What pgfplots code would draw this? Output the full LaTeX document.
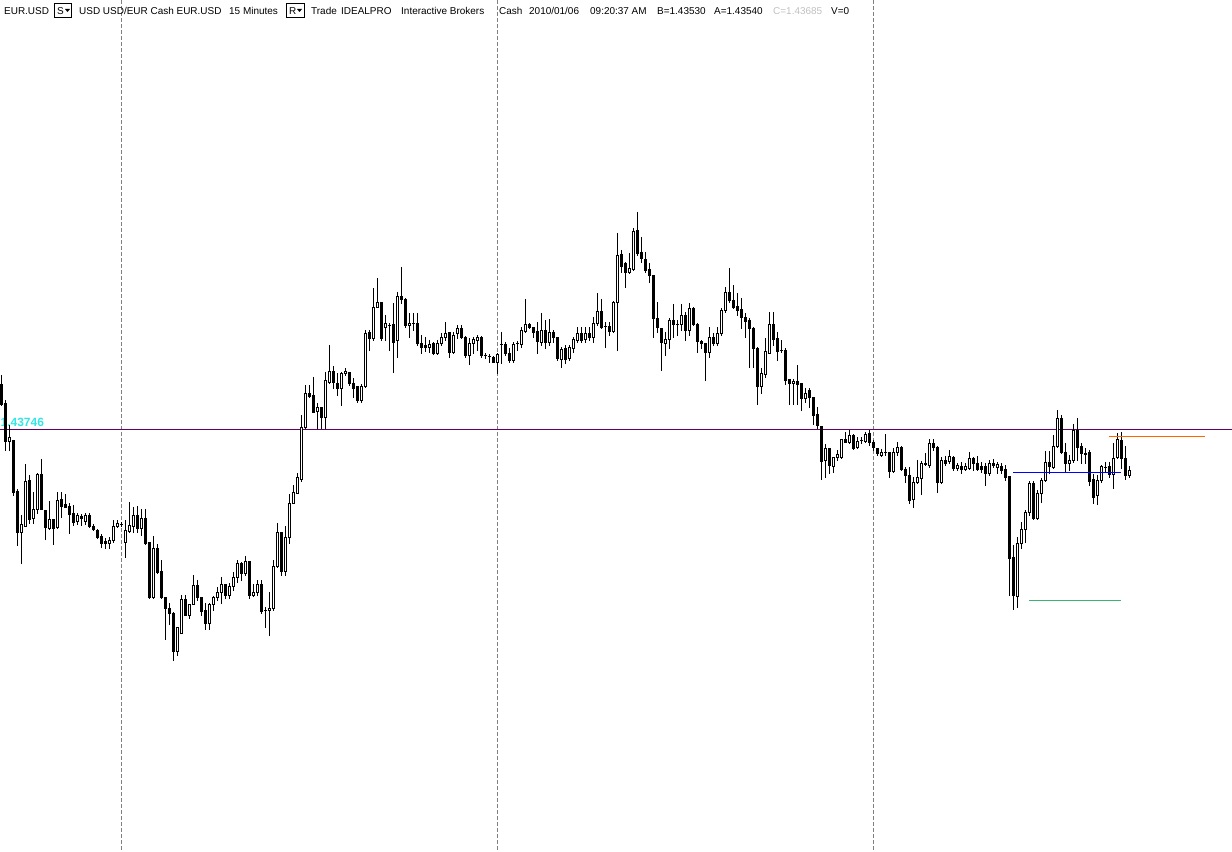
\documentclass[border=0pt]{standalone}
\usepackage{pgfplots}
\pgfplotsset{compat=1.18}
\usepackage{pgfplotstable}
\usepackage{fontspec}
\setmainfont{Liberation Sans}

\definecolor{sepgrey}{RGB}{128,128,128}
\definecolor{refline}{RGB}{102,0,102}
\definecolor{lblcyan}{RGB}{51,230,230}
\definecolor{ordblue}{RGB}{0,0,255}
\definecolor{ordorange}{RGB}{255,102,0}
\definecolor{ordgreen}{RGB}{60,179,113}
\definecolor{greytxt}{RGB}{192,192,192}

% EUR.USD 15 min bars, screen rows (top = 0); up=1 hollow (rising) bar
\pgfplotstableread{
k hi lo bt bb up
0 375 405 384 404 0
1 400 450 403 441 0
2 425 450 437 441 1
3 440 495 440 492 0
4 489 545 491 532 0
5 515 563 524 532 1
6 464 526 481 526 1
7 475 523 480 519 0
8 492 523 509 518 1
9 473 513 474 509 1
10 459 509 474 509 0
11 510 539 510 527 0
12 501 529 519 528 1
13 519 544 519 528 0
14 492 528 500 527 1
15 492 517 499 506 0
16 494 507 504 507 0
17 503 533 506 514 0
18 505 525 513 522 0
19 513 524 515 521 1
20 514 525 516 518 0
21 513 524 515 521 1
22 513 527 515 526 0
23 524 530 526 529 0
24 529 538 530 537 0
25 534 547 536 543 0
26 538 548 541 543 0
27 537 548 540 543 1
28 520 542 526 540 1
29 520 527 523 526 1
30 522 526 524 524 1
31 520 557 530 542 1
32 502 532 525 531 1
33 507 532 515 526 1
34 506 532 515 528 0
35 509 535 518 528 1
36 509 544 518 543 0
37 542 598 542 597 0
38 536 598 548 597 1
39 544 573 548 572 0
40 560 598 571 597 0
41 597 639 597 608 0
42 603 624 608 613 0
43 612 660 613 651 0
44 627 655 627 651 1
45 595 633 599 633 1
46 595 615 599 615 0
47 604 618 604 615 1
48 575 604 585 604 1
49 580 600 585 597 0
50 597 615 597 611 0
51 603 629 610 623 0
52 603 629 604 623 1
53 596 610 597 604 1
54 587 600 592 597 1
55 577 603 584 592 1
56 584 598 584 595 0
57 583 598 586 595 1
58 572 590 577 586 1
59 560 582 563 577 1
60 562 580 563 573 0
61 556 575 561 573 1
62 561 598 561 595 0
63 584 596 592 595 1
64 580 595 584 592 1
65 580 613 584 611 0
66 607 627 610 610 1
67 592 635 608 610 1
68 560 610 566 608 1
69 523 567 532 566 1
70 532 575 532 571 0
71 526 575 537 571 1
72 494 543 503 537 1
73 485 503 492 503 1
74 473 493 477 493 1
75 415 481 427 479 1
76 385 428 393 427 1
77 385 397 393 396 0
78 377 412 395 412 0
79 403 428 407 411 1
80 407 428 407 417 0
81 372 428 380 417 1
82 345 383 371 382 1
83 366 388 371 382 0
84 373 395 383 388 0
85 372 405 373 388 1
86 368 375 371 373 1
87 372 385 372 383 0
88 378 397 383 388 0
89 386 402 386 400 0
90 384 402 386 400 1
91 330 387 333 386 1
92 330 350 332 338 0
93 288 340 307 338 1
94 278 307 302 307 1
95 302 340 302 338 0
96 315 340 323 327 1
97 323 350 325 325 1
98 303 372 324 342 0
99 292 357 296 340 1
100 267 303 296 299 0
101 298 327 299 325 0
102 313 337 323 325 1
103 313 330 323 323 1
104 313 345 323 343 0
105 335 353 343 347 0
106 337 351 345 347 0
107 340 352 344 347 1
108 342 354 343 353 0
109 340 354 343 353 1
110 333 345 337 343 1
111 322 340 333 337 1
112 332 357 332 352 0
113 332 353 335 352 1
114 325 338 328 333 1
115 325 338 328 337 0
116 336 357 337 355 0
117 338 364 343 355 1
118 337 353 339 343 1
119 335 350 337 340 1
120 336 357 337 355 0
121 353 358 355 355 0
122 354 362 356 356 0
123 356 362 357 362 0
124 353 373 354 362 1
125 332 363 344 344 1
126 342 355 344 353 0
127 348 362 353 360 0
128 342 362 344 360 1
129 341 350 343 343 1
130 327 347 330 344 1
131 299 332 324 331 1
132 323 328 324 327 0
133 327 337 327 332 0
134 322 353 331 341 0
135 313 345 330 342 1
136 320 348 330 342 0
137 319 345 332 342 1
138 330 342 332 337 0
139 337 360 337 358 0
140 347 367 349 359 1
141 345 363 348 359 0
142 345 360 347 358 1
143 337 352 339 348 1
144 327 342 333 340 1
145 327 342 333 340 0
146 327 342 333 339 1
147 327 340 333 337 0
148 317 342 323 337 1
149 293 325 311 323 1
150 299 328 311 327 0
151 322 347 326 326 0
152 322 335 326 331 0
153 301 332 302 331 1
154 233 350 255 302 1
155 250 272 254 266 0
156 262 287 263 272 0
157 253 273 268 272 1
158 228 270 231 269 1
159 212 255 230 253 0
160 237 262 252 258 0
161 252 272 259 270 0
162 263 282 269 275 0
163 275 337 275 318 0
164 302 332 318 327 0
165 328 370 328 342 0
166 332 355 339 343 1
167 318 348 320 339 1
168 304 337 320 324 0
169 320 335 324 324 0
170 304 330 315 324 1
171 312 340 315 330 0
172 303 335 308 330 1
173 307 325 308 324 0
174 323 352 324 341 0
175 340 348 341 343 0
176 343 380 343 352 0
177 327 357 337 352 1
178 333 345 337 343 0
179 327 345 333 343 1
180 308 335 310 333 1
181 287 312 292 310 1
182 268 302 292 300 0
183 285 308 300 307 0
184 293 315 306 310 0
185 298 328 309 317 0
186 313 337 317 321 0
187 318 367 320 328 0
188 327 367 328 348 0
189 347 404 348 386 0
190 368 393 373 386 1
191 338 377 351 374 1
192 312 353 324 353 1
193 312 345 324 339 0
194 332 360 338 351 0
195 340 352 350 350 0
196 348 384 350 380 0
197 379 404 379 383 0
198 379 404 381 383 1
199 365 404 381 384 0
200 383 410 383 398 0
201 388 402 393 398 1
202 388 407 390 397 0
203 397 424 397 415 0
204 407 428 414 425 0
205 426 479 426 461 0
206 444 477 448 460 1
207 448 473 448 465 0
208 457 472 457 466 1
209 450 460 454 457 1
210 439 458 439 457 1
211 432 442 439 442 0
212 430 443 435 442 1
213 434 449 435 448 0
214 437 448 441 447 1
215 437 443 440 440 1
216 432 442 434 441 1
217 430 445 433 442 0
218 440 450 442 447 0
219 448 455 448 453 0
220 449 456 452 455 1
221 434 455 452 452 1
222 452 477 452 471 0
223 448 472 452 471 1
224 442 455 447 452 1
225 446 470 447 469 0
226 467 482 469 475 0
227 467 503 475 500 0
228 477 507 482 499 1
229 460 483 477 482 1
230 461 494 463 478 1
231 453 465 463 464 1
232 439 467 443 465 1
233 439 450 443 447 0
234 446 492 447 482 0
235 457 483 460 482 1
236 456 465 460 463 0
237 450 463 456 461 1
238 456 470 457 468 0
239 463 470 465 468 1
240 462 473 466 469 0
241 463 470 466 469 1
242 452 469 458 468 1
243 457 470 458 463 0
244 456 470 463 469 0
245 462 472 466 469 0
246 463 485 466 473 0
247 460 475 463 473 1
248 459 467 463 465 0
249 462 473 464 467 1
250 463 473 466 470 0
251 465 480 469 477 0
252 476 595 476 558 0
253 545 609 557 595 0
254 537 607 543 596 1
255 522 548 529 543 1
256 510 542 512 529 1
257 481 515 483 512 1
258 481 519 483 518 0
259 490 519 493 518 1
260 478 502 480 493 1
261 451 481 462 480 1
262 451 473 462 466 0
263 435 468 446 467 1
264 410 447 418 446 1
265 415 453 418 452 0
266 443 472 452 463 0
267 455 470 460 463 1
268 424 462 430 460 1
269 418 460 430 447 0
270 443 463 446 453 0
271 448 463 453 454 0
272 450 485 452 481 0
273 474 503 479 497 0
274 475 504 480 495 1
275 465 482 466 480 1
276 462 472 467 467 1
277 462 477 466 474 0
278 443 488 458 474 1
279 433 458 439 457 1
280 432 468 440 458 0
281 446 479 458 475 0
282 466 477 470 475 1
}\candles

\begin{document}
\begin{tikzpicture}
\begin{axis}[
    name=ax,
    scale only axis,
    width=1232bp, height=851bp,
    xmin=0, xmax=1232, ymin=0, ymax=851,
    y dir=reverse,
    hide axis,
    ]
    % day separators
    \addplot[sepgrey, line width=1bp, dash pattern=on 4bp off 2bp] coordinates {(121.5,0) (121.5,851)};
    \addplot[sepgrey, line width=1bp, dash pattern=on 4bp off 2bp] coordinates {(497.5,0) (497.5,851)};
    \addplot[sepgrey, line width=1bp, dash pattern=on 4bp off 2bp] coordinates {(873.5,0) (873.5,851)};
    % reference price line
    \addplot[refline, line width=1bp] coordinates {(0,429.5) (1232,429.5)};
    \node[anchor=base west, inner sep=0, text=lblcyan, font=\fontsize{12}{14}\selectfont\bfseries] at (axis cs:0.5,426) {1.43746};

    % wicks
    \addplot[draw=none, mark=none,
        error bars/.cd, y dir=plus, y explicit, error mark=none,
        error bar style={draw=black, solid, line width=1bp}]
        table[x expr=1.5+4*\thisrow{k}, y=hi, y error expr=\thisrow{lo}-\thisrow{hi}+1] {\candles};
    % bodies
    \addplot[draw=none, mark=none,
        error bars/.cd, y dir=plus, y explicit, error mark=none,
        error bar style={draw=black, solid, line width=3bp}]
        table[x expr=1.5+4*\thisrow{k}, y=bt, y error expr=\thisrow{bb}-\thisrow{bt}+1] {\candles};
    % hollow interiors of rising bars
    \addplot[draw=none, mark=none,
        restrict expr to domain={\thisrow{up}*(\thisrow{bb}-\thisrow{bt}-1)}{0.5:1000},
        error bars/.cd, y dir=plus, y explicit, error mark=none,
        error bar style={draw=white, solid, line width=1bp}]
        table[x expr=1.5+4*\thisrow{k}, y expr=\thisrow{bt}+1, y error expr=\thisrow{bb}-\thisrow{bt}-1] {\candles};

    % order lines
    \addplot[ordblue, line width=1bp] coordinates {(1013,472.5) (1121,472.5)};
    \addplot[ordorange, line width=1bp] coordinates {(1109,436.5) (1205,436.5)};
    \addplot[ordgreen, line width=1bp] coordinates {(1029,600.5) (1121,600.5)};

    % header
    \begin{scope}[every node/.style={anchor=base west, inner sep=0, font=\fontsize{10}{12}\selectfont}]
    \node at (axis cs:4,15) {EUR.USD};
    \draw[line width=1bp] (axis cs:54.5,3.5) rectangle (axis cs:71.5,17.5);
    \node at (axis cs:57,15) {S};
    \fill (axis cs:65,9) -- (axis cs:70,9) -- (axis cs:67.5,12) -- cycle;
    \node at (axis cs:79,15) {USD USD/EUR Cash EUR.USD};
    \node at (axis cs:229,15) {15 Minutes};
    \draw[line width=1bp] (axis cs:286.5,3.5) rectangle (axis cs:304.5,17.5);
    \node at (axis cs:289,15) {R};
    \fill (axis cs:297,9) -- (axis cs:302,9) -- (axis cs:299.5,12) -- cycle;
    \node at (axis cs:311,15) {Trade};
    \node at (axis cs:341,15) {IDEALPRO};
    \node at (axis cs:401,15) {Interactive Brokers};
    \node at (axis cs:499,15) {Cash};
    \node at (axis cs:529,15) {2010/01/06};
    \node at (axis cs:590,15) {09:20:37 AM};
    \node at (axis cs:657,15) {B=1.43530};
    \node at (axis cs:714,15) {A=1.43540};
    \node[text=greytxt] at (axis cs:773,15) {C=1.43685};
    \node at (axis cs:831,15) {V=0};
    \end{scope}
\end{axis}
\pgfresetboundingbox
\path[use as bounding box] (ax.south west) rectangle (ax.north east);
\end{tikzpicture}
\end{document}
